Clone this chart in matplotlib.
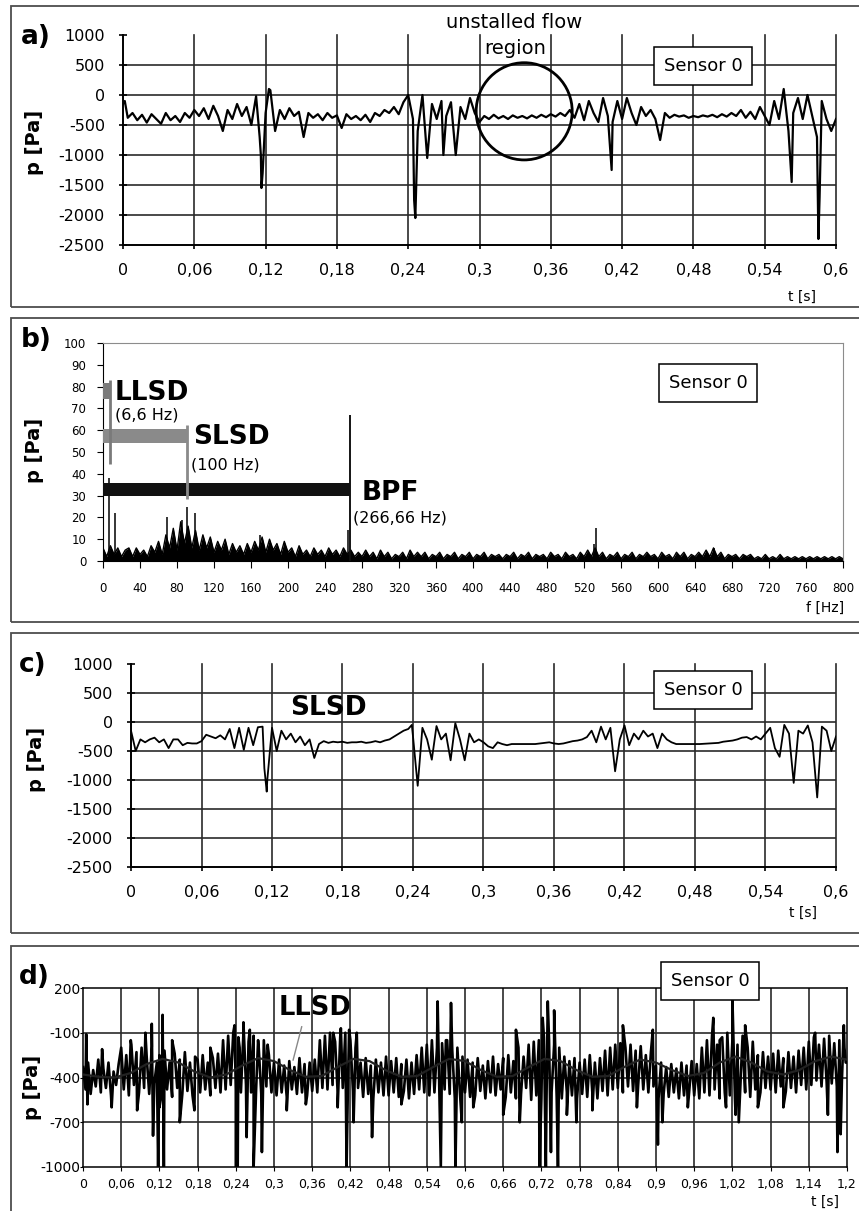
import numpy as np
import matplotlib
matplotlib.use('Agg')
import matplotlib.pyplot as plt
from matplotlib.patches import Ellipse, Rectangle

plt.rcParams['font.family'] = ['DejaVu Sans']

W, H = 859, 1211

# ---------------- data ----------------
# a) raw pressure signal, one sample every 0.004 s (0 ... 0.6 s)
step_a = 0.004
p_a = [-150, -380, -300, -420, -330, -460, -320, -400, -480, -300, -420, -350, -450, -300, -380,
       -250, -350, -220, -400, -180, -350, -600, -250, -400, -150, -350, -200, -500, -20, -1000,
       -300, 80, -600, -250, -400, -220, -350, -280, -700, -300, -380, -320, -420, -300, -380,
       -340, -550, -320, -400, -350, -420, -330, -450, -300, -350, -250, -300, -200, -320, -120,
       0, -400, -600, 0, -1050, -150, -400, -100, -350, -120, -1000, -200, -400, -50, -300,
       -450, -350, -400, -330, -390, -350, -400, -340, -380, -350, -390, -340, -380, -330, -370,
       -320, -360, -300, -350, -250, -380, -150, -420, -100, -300, -450, -50, -350, -450, -100,
       -400, -50, -300, -500, -200, -350, -250, -400, -750, -300, -380, -330, -360, -340, -380,
       -350, -370, -340, -360, -330, -370, -320, -360, -300, -350, -250, -380, -280, -400, -200,
       -350, -500, -100, -400, 100, -600, -300, -50, -400, 0, -350, -700, -100, -400, -600,
       -400]
# narrow peaks between the samples
spike_t_a = [0.0015, 0.1150, 0.1165, 0.1175, 0.1228, 0.2450, 0.2460, 0.2696, 0.4112, 0.5627, 0.5852, 0.5862]
spike_p_a = [-100, -700, -1550, -1300, 100, -1750, -2050, -1000, -1250, -1450, -2400, -1700]

# b) amplitude spectrum, one value every 4 Hz (0 ... 800 Hz)
step_b = 4
p_b = [6, 2, 7, 3, 6, 2, 5, 6, 2, 6,
       3, 5, 2, 7, 4, 9, 3, 12, 6, 15,
       5, 18, 8, 16, 6, 14, 5, 12, 6, 11,
       4, 9, 5, 10, 3, 8, 4, 7, 3, 8,
       4, 9, 5, 11, 4, 10, 5, 8, 3, 9,
       4, 6, 2, 7, 3, 5, 2, 6, 3, 5,
       2, 6, 3, 5, 2, 6, 3, 5, 2, 4,
       2, 5, 2, 4, 1, 5, 2, 4, 1, 3,
       2, 4, 1, 5, 2, 4, 2, 4, 1, 3,
       2, 4, 1, 3, 2, 4, 1, 3, 2, 4,
       1, 3, 2, 4, 1, 3, 2, 3, 1, 3,
       2, 4, 1, 3, 2, 4, 1, 3, 2, 3,
       1, 4, 2, 3, 1, 4, 2, 3, 1, 4,
       2, 5, 2, 6, 2, 4, 1, 3, 2, 4,
       1, 3, 2, 4, 1, 3, 2, 4, 2, 3,
       1, 4, 2, 3, 1, 4, 2, 4, 1, 3,
       2, 4, 2, 5, 2, 6, 2, 4, 1, 3,
       2, 3, 1, 3, 2, 3, 1, 2, 1, 3,
       1, 2, 1, 3, 1, 2, 1, 2, 1, 2,
       1, 2, 1, 2, 1, 2, 1, 2, 1, 2,
       1]
spike_f_b = [7, 13, 69, 85, 91, 99, 170, 265, 266.66, 531, 533, 660]
spike_h_b = [38, 22, 20, 19, 25, 22, 12, 14, 67, 8, 15, 6]

# frequency bands marked in b)
band_names = ['LLSD', 'SLSD', 'BPF']
band_freq = [7.6, 90.5, 266.66]
band_level = [78, 57.3, 32.8]
band_thick = [7, 6.5, 6]
band_colors = ['#7a7a7a', '#8a8a8a', '#111111']
band_line_lo = [44.5, 28.4, 0]
band_line_hi = [83, 62.4, 67]
band_freq_text = ['(6,6 Hz)', '(100 Hz)', '(266,66 Hz)']

# c) SLSD filtered signal, every 0.004 s
step_c = 0.004
p_c = [-150, -500, -300, -350, -300, -270, -350, -300, -450, -300, -300, -400, -360, -370, -370,
       -330, -220, -250, -280, -230, -300, -120, -450, -100, -480, -100, -400, -90, -80, -1000,
       -100, -500, -150, -300, -200, -350, -250, -400, -300, -620, -380, -330, -360, -340, -350,
       -340, -360, -350, -350, -340, -360, -350, -330, -350, -320, -300, -250, -200, -150, -120,
       -250, -1100, -100, -300, -650, -70, -300, -200, -660, -20, -300, -660, -200, -350, -300,
       -350, -420, -450, -350, -380, -400, -380, -380, -380, -380, -380, -380, -370, -360, -350,
       -370, -380, -370, -350, -330, -320, -300, -260, -150, -350, -80, -300, -100, -850, -300,
       -60, -400, -200, -300, -150, -250, -200, -450, -200, -300, -350, -380, -380, -380, -380,
       -380, -380, -375, -370, -365, -360, -340, -330, -320, -300, -270, -260, -300, -250, -300,
       -200, -100, -450, -600, -50, -200, -1050, -150, -200, -60, -350, -1300, -80, -150, -500,
       -250]
spike_t_c = [0.1135, 0.1155, 0.2390]
spike_p_c = [-800, -1200, -50]

# d) signal over 1.2 s, every 0.004 s
step_d = 0.004
p_d = [-330, -480, -300, -510, -350, -460, -280, -500, -340, -470, -300, -520, -360, -450, -310,
       -200, -480, -250, -520, -180, -450, -230, -500, -200, -470, -260, -510, -190, -440, -300,
       -250, -500, -220, -480, -300, -530, -240, -470, -280, -510, -230, -490, -300, -520, -260,
       -280, -500, -250, -480, -300, -520, -270, -470, -240, -500, -150, -480, -120, -450, -100,
       -480, -130, -500, -100, -450, -160, -500, -120, -470, -200, -510, -150, -460, -250, -500,
       -300, -520, -280, -500, -320, -530, -290, -480, -330, -510, -270, -500, -310, -520, -300,
       -490, -280, -500, -150, -470, -120, -480, -100, -450, -160, -500, -130, -470, -100, -480,
       -150, -490, -200, -470, -300, -530, -270, -510, -320, -540, -280, -500, -300, -520, -260,
       -520, -290, -500, -270, -530, -310, -490, -280, -540, -300, -510, -250, -480, -200, -500,
       -180, -520, -150, -500, -200, -540, -170, -480, -150, -510, -220, -540, -200, -500, -260,
       -500, -280, -530, -300, -520, -270, -490, -320, -540, -290, -500, -260, -520, -310, -480,
       -270, -530, -250, -500, -290, -540, -200, -510, -260, -470, -180, -550, -160, -520, -150,
       -540, -130, -550, -150, -500, -180, -530, -200, -540, -260, -500, -290, -520, -270, -540,
       -300, -510, -280, -530, -250, -500, -300, -540, -270, -490, -220, -520, -200, -480, -180,
       -470, -170, -500, -200, -460, -180, -490, -220, -450, -190, -480, -250, -500, -230, -460,
       -320, -540, -300, -510, -330, -530, -310, -500, -340, -540, -300, -520, -320, -500, -290,
       -520, -310, -540, -200, -500, -150, -520, -120, -480, -180, -540, -130, -500, -100, -520,
       -150, -540, -180, -510, -120, -500, -200, -530, -160, -480, -250, -500, -230, -470, -260,
       -480, -240, -500, -220, -460, -270, -490, -230, -470, -260, -500, -220, -450, -200, -480,
       -160, -450, -130, -420, -180, -460, -140, -430, -120, -440, -170, -460, -150, -420, -200,
       -300]
spike_t_d = [0.005, 0.007, 0.030, 0.045, 0.075, 0.085, 0.098, 0.108, 0.110, 0.118, 0.120, 0.125,
             0.127, 0.140, 0.152, 0.175, 0.200, 0.238, 0.240, 0.243, 0.246, 0.252, 0.257, 0.262,
             0.268, 0.275, 0.281, 0.290, 0.320, 0.350, 0.393, 0.400, 0.405, 0.414, 0.418, 0.425,
             0.430, 0.454, 0.500, 0.557, 0.562, 0.570, 0.578, 0.585, 0.595, 0.613, 0.660, 0.680,
             0.686, 0.717, 0.722, 0.727, 0.730, 0.735, 0.740, 0.746, 0.760, 0.775, 0.800, 0.848,
             0.870, 0.895, 0.903, 0.910, 0.950, 0.990, 1.000, 1.010, 1.020, 1.025, 1.030, 1.040,
             1.060, 1.100, 1.150, 1.170, 1.185, 1.190, 1.195, 1.198]
spike_p_d = [-110, -580, -210, -600, -150, -620, -100, -40, -790, -1000, -600, 20,
             -1000, -150, -700, -620, -200, -50, -1000, -1000, -200, -30, -800, -80,
             -1000, -150, -900, -180, -620, -580, -100, -600, -70, -1000, -80, -700,
             -100, -800, -580, 110, -1000, -150, 100, -1000, -700, -600, -650, -80,
             -700, -1000, 0, -1000, 110, -900, 50, -1000, -650, -700, -620, -50,
             -600, -80, -850, -700, -600, 0, -150, -600, 130, -650, -700, -50,
             -600, -600, -100, -650, -900, -780, -50, -300]
# slow LLSD component drawn over d), every 0.025 s
step_llsd = 0.025
p_llsd = [-380, -395, -400, -370, -310, -275, -300, -360, -400, -380, -320, -270, -290, -350,
          -395, -390, -330, -275, -290, -350, -395, -390, -330, -275, -290, -350, -395, -390,
          -330, -275, -290, -350, -395, -390, -330, -280, -300, -350, -390, -370, -300, -260,
          -300, -360, -380, -350, -290, -260, -280]

# ticks
t_ticks_ac = [0, 0.06, 0.12, 0.18, 0.24, 0.3, 0.36, 0.42, 0.48, 0.54, 0.6]
t_labels_ac = ['0', '0,06', '0,12', '0,18', '0,24', '0,3', '0,36', '0,42', '0,48', '0,54', '0,6']
p_ticks_ac = [-2500, -2000, -1500, -1000, -500, 0, 500, 1000]
f_ticks_b = list(range(0, 801, 40))
p_ticks_b = list(range(0, 101, 10))
t_ticks_d = [0, 0.06, 0.12, 0.18, 0.24, 0.3, 0.36, 0.42, 0.48, 0.54, 0.6, 0.66, 0.72, 0.78,
             0.84, 0.9, 0.96, 1.02, 1.08, 1.14, 1.2]
t_labels_d = ['0', '0,06', '0,12', '0,18', '0,24', '0,3', '0,36', '0,42', '0,48', '0,54', '0,6',
              '0,66', '0,72', '0,78', '0,84', '0,9', '0,96', '1,02', '1,08', '1,14', '1,2']
p_ticks_d = [-1000, -700, -400, -100, 200]


def merge(step, p, ts, ps):
    t = np.concatenate([np.arange(len(p)) * step, ts])
    v = np.concatenate([p, ps])
    o = np.argsort(t, kind='stable')
    return t[o], v[o]


# ---------------- figure ----------------
fig = plt.figure(figsize=(W / 100, H / 100), dpi=100)


def axes_px(x0, y0, x1, y1):
    return fig.add_axes([x0 / W, 1 - y1 / H, (x1 - x0) / W, (y1 - y0) / H])


def ftext(x, y, s, **kw):
    return fig.text(x / W, 1 - y / H, s, **kw)


def frame(y0, y1):
    fig.patches.append(Rectangle((11 / W, 1 - y1 / H), (870 - 11) / W, (y1 - y0) / H,
                                 transform=fig.transFigure, fill=False,
                                 edgecolor='#4d4d4d', lw=1.3))


def sensor_box(x, y):
    ftext(x, y, 'Sensor 0', fontsize=13, ha='center', va='center', zorder=10,
          bbox=dict(boxstyle='square,pad=0.55', fc='white', ec='black', lw=1.1))


grid_kw = dict(color='#2a2a2a', lw=1.2, zorder=1)

frame(6, 307)
frame(318, 622)
frame(633, 933)
frame(946, 1230)


def time_panel(ax):
    ax.set_xlim(0, 0.6)
    ax.set_ylim(-2500, 1000)
    ax.spines['top'].set_visible(False)
    ax.spines['right'].set_visible(False)
    for s in ['left', 'bottom']:
        ax.spines[s].set_linewidth(1.4)
    ax.set_xticks(t_ticks_ac)
    ax.set_xticklabels(t_labels_ac, fontsize=11.5)
    ax.set_yticks(p_ticks_ac)
    ax.set_yticklabels([str(v) for v in p_ticks_ac], fontsize=11.5)
    ax.tick_params(axis='x', direction='out', length=3, width=1.2, pad=10)
    ax.tick_params(axis='y', direction='inout', length=6, width=1.2, pad=10)
    for v in t_ticks_ac[1:]:
        ax.axvline(v, clip_on=False, **grid_kw)
    for v in p_ticks_ac[1:-1]:
        ax.axhline(v, **grid_kw)


# ---- a)
ax_a = axes_px(123, 35, 836, 245)
time_panel(ax_a)
ta, va = merge(step_a, p_a, spike_t_a, spike_p_a)
ax_a.plot(ta, va, color='black', lw=1.6, zorder=3)
ax_a.add_patch(Ellipse((0.3376, -272), 0.0808, 1620, fill=False, ec='black', lw=2, zorder=4))
ftext(514, 22, 'unstalled flow', fontsize=14, ha='center', va='center')
ftext(515, 48, 'region', fontsize=14, ha='center', va='center')
ftext(802, 297, 't [s]', fontsize=10, ha='center', va='center')
ftext(36, 37, 'a)', fontsize=19, fontweight='bold', ha='center', va='center')
ftext(35, 142, 'p [Pa]', fontsize=14, fontweight='bold', rotation=90, ha='center', va='center')
sensor_box(703, 66)

# ---- b)
ax_b = axes_px(103, 343, 843, 561)
ax_b.set_xlim(0, 800)
ax_b.set_ylim(0, 100)
for s in ['top', 'right']:
    ax_b.spines[s].set_color('#8c8c8c')
ax_b.set_xticks(f_ticks_b)
ax_b.set_xticklabels([str(v) for v in f_ticks_b], fontsize=8.5)
ax_b.set_yticks(p_ticks_b)
ax_b.set_yticklabels([str(v) for v in p_ticks_b], fontsize=8.5)
ax_b.tick_params(axis='x', direction='out', length=5, pad=10)
ax_b.tick_params(axis='y', direction='out', length=4, pad=8)
fb = np.arange(len(p_b)) * step_b
ax_b.fill_between(fb, 0, p_b, color='black', lw=0, zorder=2)
ax_b.plot(fb, p_b, color='black', lw=1.0, zorder=2)
ax_b.vlines(spike_f_b, 0, spike_h_b, colors='black', lw=1.1, zorder=3)
ax_b.barh(band_level, band_freq, height=band_thick, left=0, color=band_colors, zorder=4)
ax_b.vlines(band_freq, band_line_lo, band_line_hi, colors=band_colors, lw=[2, 2, 1.1], zorder=4)
ax_b.text(13, 77, band_names[0], fontsize=19, fontweight='bold', va='center')
ax_b.text(13, 67, band_freq_text[0], fontsize=11.5, va='center')
ax_b.text(97, 57, band_names[1], fontsize=19, fontweight='bold', va='center')
ax_b.text(95, 44, band_freq_text[1], fontsize=11.5, va='center')
ax_b.text(280, 31, band_names[2], fontsize=19, fontweight='bold', va='center')
ax_b.text(270, 19.7, band_freq_text[2], fontsize=11.5, va='center')
ftext(825, 608, 'f [Hz]', fontsize=10, ha='center', va='center')
ftext(36, 340, 'b)', fontsize=19, fontweight='bold', ha='center', va='center')
ftext(35, 450, 'p [Pa]', fontsize=14, fontweight='bold', rotation=90, ha='center', va='center')
sensor_box(708, 383)

# ---- c)
ax_c = axes_px(131, 664, 836, 867)
time_panel(ax_c)
tc, vc = merge(step_c, p_c, spike_t_c, spike_p_c)
ax_c.plot(tc, vc, color='black', lw=1.3, zorder=3)
ax_c.text(0.1677, 241, 'SLSD', fontsize=19, fontweight='bold', ha='center', va='center', zorder=5)
ftext(803, 913, 't [s]', fontsize=10, ha='center', va='center')
ftext(33, 665, 'c)', fontsize=19, fontweight='bold', ha='center', va='center')
ftext(36, 759, 'p [Pa]', fontsize=14, fontweight='bold', rotation=90, ha='center', va='center')
sensor_box(703, 690)

# ---- d)
ax_d = axes_px(83, 988, 847, 1167)
ax_d.set_xlim(0, 1.2)
ax_d.set_ylim(-1000, 200)
for s in ax_d.spines.values():
    s.set_linewidth(1.1)
ax_d.set_xticks(t_ticks_d)
ax_d.set_xticklabels(t_labels_d, fontsize=9)
ax_d.set_yticks(p_ticks_d)
ax_d.set_yticklabels([str(v) for v in p_ticks_d], fontsize=10)
ax_d.tick_params(axis='x', direction='out', length=3, pad=5)
ax_d.tick_params(axis='y', direction='out', length=2, pad=0)
for v in t_ticks_d[1:-1]:
    ax_d.axvline(v, **grid_kw)
for v in p_ticks_d[1:-1]:
    ax_d.axhline(v, **grid_kw)
td, vd = merge(step_d, p_d, spike_t_d, spike_p_d)
ax_d.plot(td, vd, color='black', lw=1.9, zorder=3)
tl = np.arange(len(p_llsd)) * step_llsd
ax_d.plot(tl, p_llsd, color='#222222', lw=1.6, zorder=4)
ax_d.text(0.364, 66, 'LLSD', fontsize=18.5, fontweight='bold', ha='center', va='center', zorder=5)
ax_d.plot([0.3435, 0.330], [-60, -283], color='#888888', lw=1, zorder=5)
ftext(825, 1202, 't [s]', fontsize=10, ha='center', va='center')
ftext(34, 977, 'd)', fontsize=19, fontweight='bold', ha='center', va='center')
ftext(32, 1087, 'p [Pa]', fontsize=14, fontweight='bold', rotation=90, ha='center', va='center')
sensor_box(710, 981)

fig.savefig('out.png', dpi=100)
